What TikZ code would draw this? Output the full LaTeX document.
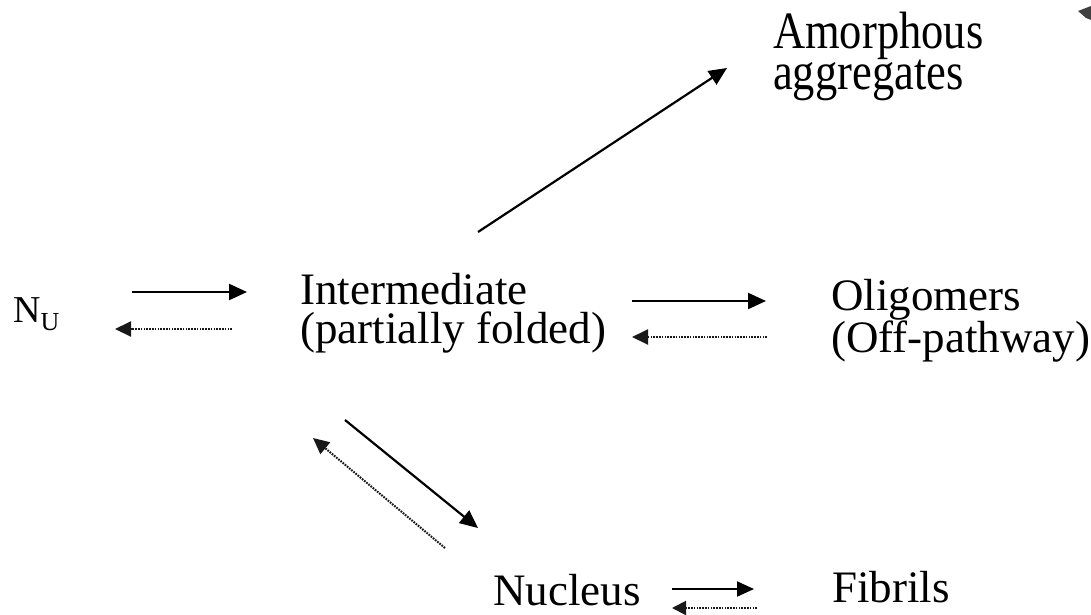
\documentclass[tikz,border=0pt]{standalone}
\usepackage{fontspec}
\setmainfont{Liberation Serif}
\usetikzlibrary{arrows.meta}
\tikzset{
  lbl/.style={anchor=base west, inner sep=0pt, align=left, font=\fontsize{45}{39}\selectfont},
  fwd/.style={line width=2.2pt, -{Triangle[length=18pt,width=16pt]}},
  bwd/.style={line width=2pt, black!90, dash pattern=on 1.7pt off 1.1pt, -{Triangle[length=16pt,width=15pt]}},
}
\begin{document}
\begin{tikzpicture}[x=1pt,y=-1pt]
\useasboundingbox (0,0) rectangle (1091,615);
% corner smudge
\fill[black!75] (1078,11) -- (1091,6) -- (1091,20) -- (1086,18) -- cycle;
% labels (base anchor = baseline of the last line)
\node[lbl] (nu) at (13,322) {\fontsize{38}{40}\selectfont N\raisebox{-8pt}{\fontsize{26}{28}\selectfont U}};
\node[lbl] (inter) at (300,343) {Intermediate\\(partially folded)};
\node[lbl, font=\fontsize{45}{42}\selectfont] (olig) at (831,352) {Oligomers\\(Off-pathway)};
\node[lbl] (amor) at (773,90) {\scalebox{1}[1.18]{\parbox[b]{300pt}{\fontsize{44.5}{35}\selectfont Amorphous\\aggregates}}};
\node[lbl] (nuc) at (493,605) {Nucleus};
\node[lbl] (fib) at (832,602) {Fibrils};
% connector end points
\coordinate (a1) at (132,292); \coordinate (a2) at (247,292);
\coordinate (b1) at (232,329); \coordinate (b2) at (115,329);
\coordinate (c1) at (632,301); \coordinate (c2) at (766,301);
\coordinate (d1) at (767,337); \coordinate (d2) at (632,337);
\coordinate (e1) at (478,232); \coordinate (e2) at (727,68);
\coordinate (f1) at (345,420); \coordinate (f2) at (478,528);
\coordinate (g1) at (445,548); \coordinate (g2) at (313,438);
\coordinate (h1) at (672,589); \coordinate (h2) at (754,589);
\coordinate (i1) at (757,608); \coordinate (i2) at (672,608);
% arrows
\draw[fwd] (a1) -- (a2);
\draw[bwd] (b1) -- (b2);
\draw[fwd] (c1) -- (c2);
\draw[bwd] (d1) -- (d2);
\draw[fwd] (e1) -- (e2);
\draw[fwd] (f1) -- (f2);
\draw[bwd] (g1) -- (g2);
\draw[fwd, line width=2pt, -{Triangle[length=17pt,width=15pt]}] (h1) -- (h2);
\draw[bwd, -{Triangle[length=14pt,width=14pt]}] (i1) -- (i2);
\end{tikzpicture}
\end{document}
